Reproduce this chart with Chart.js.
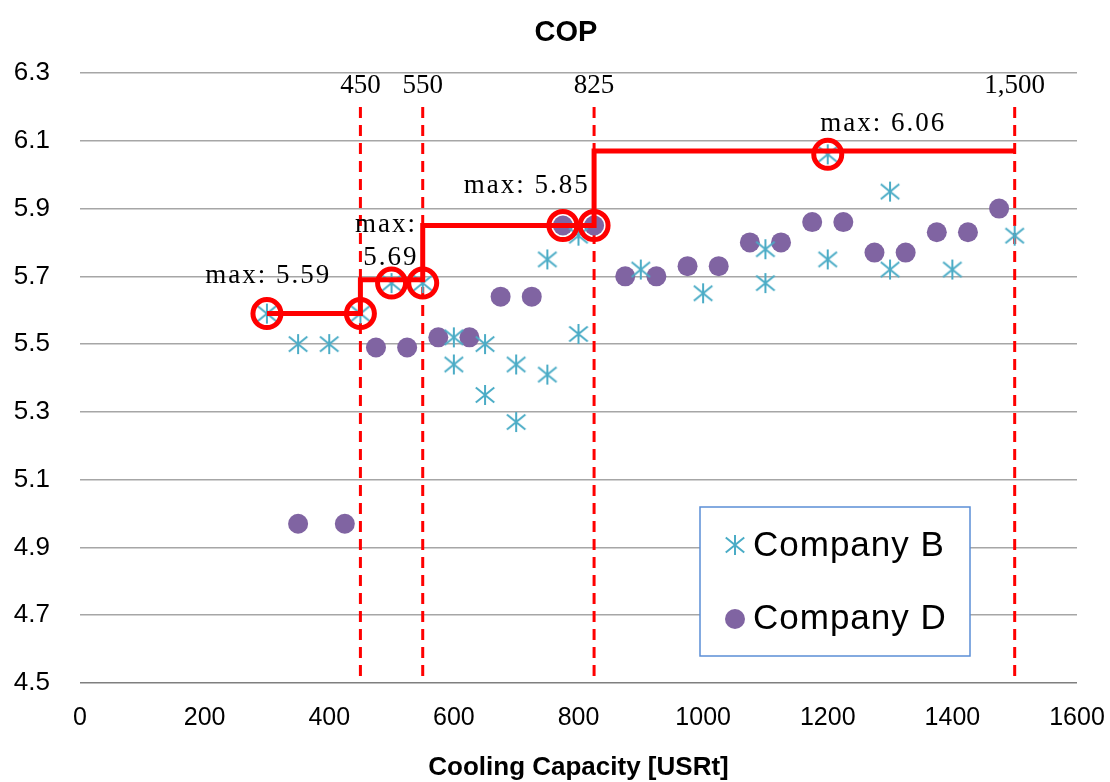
<!DOCTYPE html>
<html>
<head>
<meta charset="utf-8">
<script src="https://cdn.jsdelivr.net/npm/chart.js@4.4.1/dist/chart.umd.min.js"></script>
<style>
html, body { margin: 0; padding: 0; background: #fff; }
#wrap { width: 1110px; height: 782px; position: relative; }
</style>
</head>
<body>
<div id="wrap"><canvas id="graficoCop" width="1110" height="782"></canvas></div>
<script>
// dados

const compBX = [300, 350, 400, 450, 500, 550, 600, 600, 650, 650, 700, 700, 750, 750, 800, 800, 900, 1000, 1100, 1100, 1200, 1200, 1300, 1300, 1400, 1500]
const compBY = [5.59, 5.50, 5.50, 5.59, 5.68, 5.68, 5.52, 5.44, 5.50, 5.35, 5.44, 5.27, 5.41, 5.75, 5.53, 5.82, 5.72, 5.65, 5.78, 5.68, 6.06, 5.75, 5.95, 5.72, 5.72, 5.82]

const compDX = [350, 425, 475, 525, 575, 625, 675, 725, 775, 825, 875, 925, 975, 1025, 1075, 1125, 1175, 1225, 1275, 1325, 1375, 1425, 1475]
const compDY = [4.97, 4.97, 5.49, 5.49, 5.52, 5.52, 5.64, 5.64, 5.85, 5.85, 5.70, 5.70, 5.73, 5.73, 5.80, 5.80, 5.86, 5.86, 5.77, 5.77, 5.83, 5.83, 5.90]

// faixas de capacidade e o maximo de cada uma
const faixas = [300, 450, 550, 825, 1500]
const faixaMax = [5.59, 5.69, 5.85, 6.07]
const limites = [450, 550, 825, 1500]
const limiteLabels = ['450', '550', '825', '1,500']

// pontos maximos marcados
const maxX = [300, 450, 500, 550, 775, 825, 1200]
const maxY = [5.59, 5.59, 5.68, 5.68, 5.85, 5.85, 6.06]

const yTicks = [4.5, 4.7, 4.9, 5.1, 5.3, 5.5, 5.7, 5.9, 6.1, 6.3]
const xTicks = [0, 200, 400, 600, 800, 1000, 1200, 1400, 1600]

// textos "max"
const notas = [
    { text: 'max: 5.59', x: 302, y: 5.680 },
    { text: 'max:', x: 491, y: 5.831 },
    { text: '5.69', x: 499, y: 5.733 },
    { text: 'max: 5.85', x: 717, y: 5.946 },
    { text: 'max: 6.06', x: 1289, y: 6.129 }
]

const azul = '#4bacc6'
const roxo = '#8064a2'
const vermelho = '#ff0000'

function asterisco(tam, cor, lw) {
    const c = document.createElement('canvas')
    c.width = tam
    c.height = tam
    const g = c.getContext('2d')
    const m = tam / 2
    g.strokeStyle = cor
    g.lineWidth = lw
    g.beginPath()
    g.moveTo(m, 1); g.lineTo(m, tam - 1)
    g.moveTo(m - 0.42 * tam, m - 0.34 * tam); g.lineTo(m + 0.42 * tam, m + 0.34 * tam)
    g.moveTo(m - 0.42 * tam, m + 0.34 * tam); g.lineTo(m + 0.42 * tam, m - 0.34 * tam)
    g.stroke()
    return c
}

const estrela = asterisco(22, azul, 2)

let degraus = []
for (let i = 0; i < faixaMax.length; i++) {
    degraus.push({ x: faixas[i], y: faixaMax[i] })
    degraus.push({ x: faixas[i + 1], y: faixaMax[i] })
}

const extras = {
    id: 'extras',
    beforeDatasetsDraw(chart) {
        const { ctx, scales: { x, y } } = chart
        ctx.save()
        ctx.strokeStyle = vermelho
        ctx.lineWidth = 3
        ctx.setLineDash([11, 7])
        limites.forEach(v => {
            const px = x.getPixelForValue(v)
            ctx.beginPath()
            ctx.moveTo(px, y.getPixelForValue(6.2))
            ctx.lineTo(px, y.getPixelForValue(4.5))
            ctx.stroke()
        })
        ctx.restore()
    },
    afterDraw(chart) {
        const { ctx, scales: { x, y } } = chart
        ctx.save()

        // titulo
        ctx.fillStyle = '#000'
        ctx.font = 'bold 29px "Liberation Sans", Arial, sans-serif'
        ctx.textAlign = 'center'
        ctx.textBaseline = 'middle'
        ctx.fillText('COP', 566, 33)

        // rotulos das faixas
        ctx.font = '27px "Liberation Serif", "Times New Roman", serif'
        ctx.textBaseline = 'alphabetic'
        limites.forEach((v, i) => {
            ctx.fillText(limiteLabels[i], x.getPixelForValue(v), y.getPixelForValue(6.241))
        })

        // notas max
        ctx.letterSpacing = '2px'
        notas.forEach(n => {
            ctx.fillText(n.text, x.getPixelForValue(n.x), y.getPixelForValue(n.y))
        })
        ctx.letterSpacing = '0px'

        // legenda
        ctx.fillStyle = '#fff'
        ctx.fillRect(700, 507, 270, 149)
        ctx.strokeStyle = '#5b8ed6'
        ctx.lineWidth = 1.5
        ctx.strokeRect(700, 507, 270, 149)
        ctx.drawImage(estrela, 735 - 11, 545 - 11)
        ctx.fillStyle = roxo
        ctx.beginPath()
        ctx.arc(735, 619, 10, 0, Math.PI * 2)
        ctx.fill()
        ctx.fillStyle = '#000'
        ctx.font = '35px "Liberation Sans", Arial, sans-serif'
        ctx.textAlign = 'left'
        ctx.letterSpacing = '1px'
        ctx.fillText('Company B', 753, 556)
        ctx.fillText('Company D', 753, 629)
        ctx.restore()
    }
}

const ctx = document.getElementById('graficoCop')

const myChart = new Chart(ctx, {
    type: 'scatter',
    data: {
        datasets: [
            {
                label: 'max',
                data: maxX.map((v, i) => ({ x: v, y: maxY[i] })),
                pointStyle: 'circle',
                pointRadius: 14,
                borderWidth: 5,
                borderColor: vermelho,
                backgroundColor: 'rgba(0,0,0,0)',
                clip: false
            },
            {
                label: 'degraus',
                type: 'line',
                data: degraus,
                borderColor: vermelho,
                borderWidth: 5,
                pointRadius: 0,
                fill: false,
                tension: 0,
                borderJoinStyle: 'miter',
                clip: false
            },
            {
                label: 'Company B',
                data: compBX.map((v, i) => ({ x: v, y: compBY[i] })),
                pointStyle: estrela,
                pointRadius: 11
            },
            {
                label: 'Company D',
                data: compDX.map((v, i) => ({ x: v, y: compDY[i] })),
                pointStyle: 'circle',
                pointRadius: 10,
                borderWidth: 0,
                backgroundColor: roxo,
                borderColor: roxo
            }
        ]
    },
    options: {
        responsive: false,
        animation: false,
        events: [],
        layout: { padding: { top: 73, right: 33, left: 0, bottom: 0 } },
        plugins: {
            legend: { display: false },
            title: { display: false },
            tooltip: { enabled: false }
        },
        scales: {
            x: {
                type: 'linear',
                min: 0,
                max: 1600,
                afterBuildTicks: s => { s.ticks = xTicks.map(v => ({ value: v })) },
                afterFit: s => {
                    s.height = 99
                    s.paddingLeft = 0
                    s.paddingRight = 0
                },
                grid: { display: false, drawTicks: false },
                border: { display: false },
                ticks: {
                    padding: 20,
                    color: '#000',
                    font: { family: '"Liberation Sans", Arial, sans-serif', size: 25 },
                    maxRotation: 0,
                    callback: v => String(v)
                },
                title: {
                    display: true,
                    text: 'Cooling Capacity [USRt]',
                    color: '#000',
                    font: { family: '"Liberation Sans", Arial, sans-serif', size: 26, weight: 'bold', lineHeight: 1.1 },
                    padding: { top: 0, bottom: 0 }
                }
            },
            y: {
                type: 'linear',
                min: 4.5,
                max: 6.3,
                afterBuildTicks: s => { s.ticks = yTicks.map(v => ({ value: v })) },
                afterFit: s => {
                    s.width = 80
                    s.paddingTop = 0
                    s.paddingBottom = 0
                },
                grid: {
                    drawTicks: false,
                    lineWidth: 1.5,
                    color: c => (c.tick && c.tick.value === 4.5) ? '#7f7f7f' : '#a6a6a6'
                },
                border: { display: false },
                ticks: {
                    padding: 30,
                    color: '#000',
                    font: { family: '"Liberation Sans", Arial, sans-serif', size: 26 },
                    callback: v => v.toFixed(1)
                }
            }
        }
    },
    plugins: [extras]
})
</script>
</body>
</html>
